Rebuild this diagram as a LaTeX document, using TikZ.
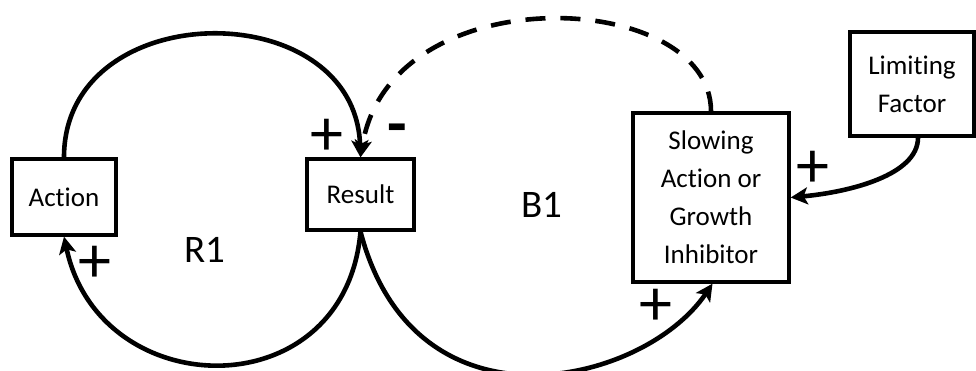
\documentclass[tikz,border=0pt]{standalone}
\usepackage{fontspec}
\setmainfont{Carlito}[Ligatures=NoCommon]
\usetikzlibrary{arrows.meta}
\begin{document}
\begin{tikzpicture}[x=1pt,y=-1pt,
  box/.style={draw=black,line width=3.3pt,rectangle,inner sep=0pt,align=center,
    font=\fontsize{27}{38}\selectfont},
  link/.style={line width=4.6pt,-{Stealth[length=17pt,width=17pt,inset=4pt]}},
  dlink/.style={link,dash pattern=on 20pt off 15pt},
  sign/.style={inner sep=0pt,font=\fontsize{66}{66}\selectfont},
  minus/.style={inner sep=0pt,font=\fontsize{64}{64}\selectfont\bfseries},
  loopname/.style={inner sep=0pt,font=\fontsize{39}{39}\selectfont}]
\useasboundingbox (0,0) rectangle (976,370);
\node[box,minimum width=104pt,minimum height=76pt] (action) at (64,197) {Action};
\node[box,minimum width=107pt,minimum height=71pt] (result) at (360.5,194.5) {Result};
\node[box,minimum width=156pt,minimum height=169pt] (slow) at (711,197.5) {Slowing\\Action or\\Growth\\Inhibitor};
\node[box,minimum width=124pt,minimum height=104pt] (limit) at (912,84) {Limiting\\Factor};
\node[loopname] (r1) at (205,250) {R1};
\node[loopname] (b1) at (542,205) {B1};
\draw[link] (action.north) .. controls (64,-5) and (355,-7) .. (result.north);
\draw[link] (result.south) .. controls (345,410) and (100,405) .. (action.south);
\draw[link] (result.south) .. controls (415,440) and (644,385) .. ([xshift=1.5pt]slow.south);
\draw[dlink] (slow.north) .. controls (711,-12) and (390,-25) .. (result.north);
\draw[link] ([xshift=6pt]limit.south) .. controls (918,175) and (850,192) .. (slow.east);
\node[sign] (p1) at (327,137) {+};
\node[minus] (m1) at (397,135) {-};
\node[sign] (p2) at (95,264) {+};
\node[sign] (p3) at (656,307) {+};
\node[sign] (p4) at (813,169) {+};
\end{tikzpicture}
\end{document}
